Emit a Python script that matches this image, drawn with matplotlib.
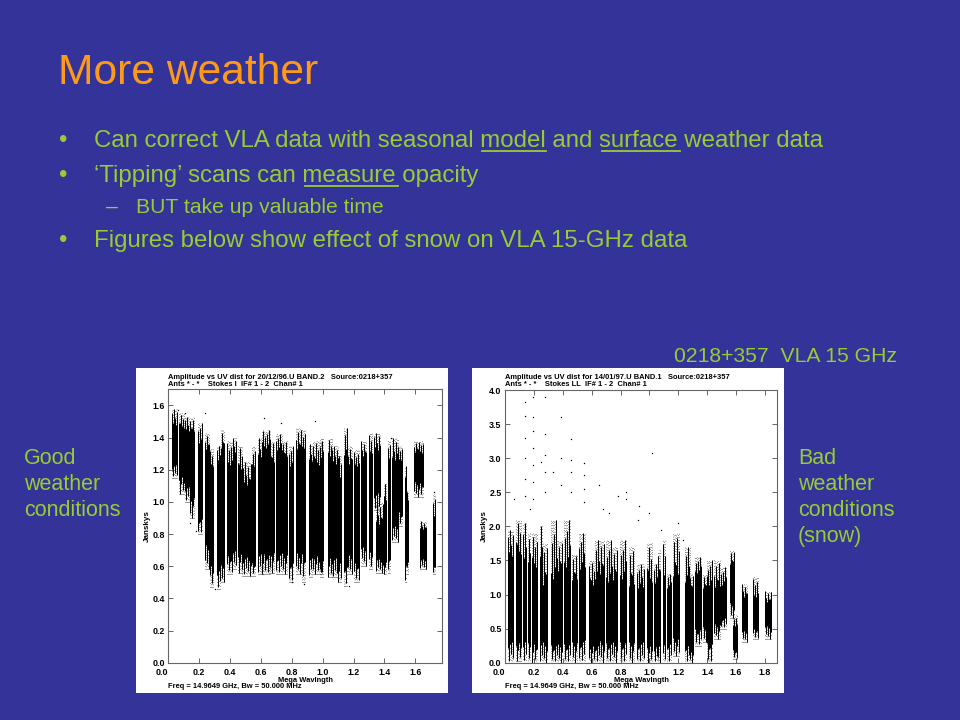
import matplotlib
matplotlib.use('Agg')
import matplotlib.pyplot as plt
import numpy as np
from matplotlib.lines import Line2D
from matplotlib.patches import Rectangle

plt.rcParams['font.family'] = ['Liberation Sans', 'DejaVu Sans']

BG = '#333399'
ORANGE = '#ff9a18'
GREEN = '#99cc33'
W, H = 960, 720

# left plot, good weather: uv distance, solid part of each streak, sparse ends
good_x = [.04, .087, .124, .158, .205, .253, .283, .33, .352, .395, .432, .465, .508, .555, .601,
          .633, .67, .72, .76, .795, .843, .88, .925, .97, .998, 1.047, 1.08, 1.112, 1.15, 1.182,
          1.22, 1.265, 1.312, 1.355, 1.405, 1.432, 1.47, 1.505, 1.54, 1.625, 1.65, 1.55, 1.72, 1.37]
good_lo = [1.2, 1.12, 1.05, .98, .85, .66, .53, .5, .52, .6, .62, .62, .6, .55, .6, .6, .62, .6, .6,
           .56, .6, .6, .58, .6, .58, .58, .58, .56, .52, .6, .55, .65, .62, 1.02, .58, .6, .8, .9,
           .55, 1.1, .62, .58, .58, .62]
good_hi = [1.5, 1.5, 1.48, 1.48, 1.42, 1.4, 1.3, 1.32, 1.42, 1.3, 1.38, 1.25, 1.15, 1.3, 1.35, 1.42,
           1.3, 1.4, 1.35, 1.3, 1.4, 1.42, 1.32, 1.3, 1.35, 1.35, 1.3, 1.2, 1.38, 1.3, 1.3, 1.35,
           1.38, 1.35, 1.05, 1.35, 1.3, 1.3, 1.2, 1.33, .85, 1.05, .95, .88]
good_w = [.028, .028, .024, .026, .024, .024, .018, .02, .018, .028, .02, .024, .05, .018, .03, .042,
          .03, .036, .024, .024, .03, .018, .02, .05, .02, .024, .036, .02, .018, .024, .03, .028,
          .018, .034, .012, .012, .036, .024, .009, .05, .032, .01, .012, .04]
good_tail_lo = [1.15, 1.05, 1.0, .9, .8, .58, .47, .46, .5, .55, .58, .56, .54, .54, .55, .55, .56,
                .55, .55, .5, .55, .5, .53, .55, .53, .53, .53, .5, .48, .55, .5, .6, .58, .95, .55,
                .56, .75, .85, .5, 1.03, .58, .55, .55, .56]
good_tail_hi = [1.58, 1.55, 1.53, 1.52, 1.49, 1.43, 1.33, 1.35, 1.45, 1.38, 1.4, 1.35, 1.25, 1.35,
                1.4, 1.45, 1.38, 1.42, 1.38, 1.35, 1.46, 1.45, 1.36, 1.38, 1.4, 1.4, 1.35, 1.3, 1.46,
                1.35, 1.32, 1.38, 1.43, 1.43, 1.12, 1.38, 1.4, 1.35, 1.22, 1.38, .88, 1.07, 1.05, 1.0]
good_stray_x = [.06, .11, .24, .3, .62, .73, .8, .88, 1.1, 1.17, .95, 1.44, 1.72, .14, .18]
good_stray_y = [1.57, 1.55, 1.55, .46, 1.52, 1.49, .5, .49, .53, .48, 1.5, 1.4, 1.06, .87, .82]
good_xticks = [0.0, 0.2, 0.4, 0.6, 0.8, 1.0, 1.2, 1.4, 1.6]
good_yticks = [0.0, 0.2, 0.4, 0.6, 0.8, 1.0, 1.2, 1.4, 1.6]

# right plot, snow
bad_x = [.042, .092, .138, .166, .208, .25, .277, .335, .38, .427, .48, .53, .6, .635, .675, .72,
         .762, .82, .877, .923, .958, 1.005, 1.044, 1.072, 1.105, 1.136, 1.182, 1.265, 1.292, 1.335,
         1.383, 1.418, 1.465, 1.51, 1.57, 1.593, 1.658, 1.738, 1.824]
bad_lo = [.15, .15, .2, .15, .15, .15, .2, .15, .15, .15, .2, .2, .15, .15, .2, .2, .2, .2, .2, .2, .2,
          .15, .15, .2, .15, .2, .25, .15, .1, .4, .45, .2, .5, .62, .8, .15, .4, .45, .5]
bad_hi = [1.7, 1.75, 1.55, 1.6, 1.55, 1.6, 1.2, 1.35, 1.45, 1.55, 1.3, 1.5, 1.2, 1.35, 1.4, 1.3, 1.3,
          1.35, 1.2, 1.2, 1.2, 1.3, 1.2, 1.35, 1.35, 1.2, 1.35, 1.3, 1.15, 1.42, 1.15, 1.25, 1.15, 1.2,
          1.5, .58, 1.02, 1.02, .92]
bad_w = [.032, .03, .02, .012, .03, .016, .024, .028, .03, .034, .03, .034, .03, .024, .026, .032, .03,
         .036, .03, .02, .022, .03, .024, .016, .016, .024, .034, .032, .018, .034, .024, .028, .034,
         .028, .024, .024, .03, .03, .034]
bad_tail_lo = [0, .02, 0, 0, 0, 0, 0, 0, 0, 0, 0, 0, 0, 0, 0, 0, 0, 0, 0, 0, 0, 0, 0, 0, 0, 0, .1, 0, 0,
               .25, .3, 0, .35, .5, .65, .05, .3, .35, .35]
bad_tail_hi = [1.95, 2.1, 2.05, 1.9, 1.9, 2.0, 1.75, 2.1, 1.8, 2.1, 1.6, 1.9, 1.5, 1.8, 1.8, 1.8, 1.7, 1.8,
               1.7, 1.45, 1.45, 1.75, 1.45, 1.65, 1.8, 1.3, 1.9, 1.7, 1.3, 1.55, 1.3, 1.5, 1.5, 1.4, 1.65,
               .7, 1.15, 1.25, 1.05]
bad_spike_x = [.14, .14, .14, .14, .14, .14, .195, .195, .195, .195, .195, .195, .195, .28, .28, .28, .28,
               .28, .385, .385, .385, .455, .455, .455, .455, .55, .55, .55, .55, .65, .78, .84, .84, .93,
               1.0, 1.02, .25, .33, .06, .17, .68, .72, .92, 1.08, 1.2, 1.23]
bad_spike_y = [3.83, 3.62, 3.3, 3.0, 2.7, 2.45, 3.9, 3.6, 3.4, 3.15, 2.9, 2.65, 2.4, 3.9, 3.35, 3.05, 2.8,
               2.5, 3.6, 3.0, 2.6, 3.28, 2.98, 2.8, 2.5, 2.93, 2.75, 2.55, 2.35, 2.6, 2.44, 2.5, 2.4, 2.3,
               2.2, 3.07, 2.95, 2.8, 2.4, 2.25, 2.25, 2.2, 2.1, 1.95, 2.05, 1.8]
bad_xticks = [0.0, 0.2, 0.4, 0.6, 0.8, 1.0, 1.2, 1.4, 1.6, 1.8]
bad_yticks = [0.0, 0.5, 1.0, 1.5, 2.0, 2.5, 3.0, 3.5, 4.0]

# how far each pixel column of a streak reaches into its sparse ends, to break the flat tops
FRAY = [.3, .9, .1, .6, 0, .75, .2, 1, .45, .05, .8, .35]


def px_text(x, y, s, **kw):
    return fig.text(x / W, 1 - y / H, s, **kw)


def px_axes(x0, y0, x1, y1):
    return fig.add_axes([x0 / W, 1 - y1 / H, (x1 - x0) / W, (y1 - y0) / H], facecolor='white')


def underline(x0, x1, y):
    fig.add_artist(Line2D([x0 / W, x1 / W], [1 - y / H, 1 - y / H], color=GREEN, lw=1.3))


def vis_plot(ax, xs, lo, hi, w, tail_lo, tail_hi, stray_x, stray_y, xlim, ylim, xticks, yticks, t1, t2):
    ax.set_xlim(xlim)
    ax.set_ylim(ylim)
    px = xlim[1] / ax.get_window_extent().width
    n = 0
    for x, a, b, c, d, wd in zip(xs, lo, hi, tail_lo, tail_hi, w):
        # one thin line per pixel column, sparse dots beyond the solid part
        cols = np.arange(x - wd * 0.62, x + wd * 0.62, px)
        for cx in cols:
            f = FRAY[n % len(FRAY)]
            g = FRAY[(n + 5) % len(FRAY)]
            n += 1
            ax.vlines(cx, c, d, color='black', lw=0.55, linestyles=(0, (0.7, 2.2 + 2 * g)))
            s0 = a + (c - a) * f + (b - a) * 0.1 * (1 - f)
            s1 = b + (d - b) * g - (b - a) * 0.1 * (1 - g)
            ax.vlines(cx, s0, s1, color='black', lw=0.72)
    ax.scatter(stray_x, stray_y, s=1.0, c='black', lw=0)
    ax.set_xticks(xticks)
    ax.set_yticks(yticks)
    ax.set_xticklabels(['%.1f' % v for v in xticks])
    ax.set_yticklabels(['%.1f' % v for v in yticks])
    ax.tick_params(direction='in', length=3.6, width=0.7, color='#666666', top=True, right=True, pad=2.5,
                   labelsize=6.4)
    ax.tick_params(axis='x', pad=3.8)
    for lab in ax.get_xticklabels() + ax.get_yticklabels():
        lab.set_fontweight('bold')
    ax.get_xticklabels()[0].set_ha('right')
    for sp in ax.spines.values():
        sp.set_linewidth(0.8)
        sp.set_color('#666666')
    ax.set_xlabel('Mega Wavlngth', fontsize=5.4, fontweight='bold', labelpad=-0.3)
    ax.set_ylabel('Janskys', fontsize=5.8, fontweight='bold', labelpad=1)
    ax.text(0, 1.039, t1, transform=ax.transAxes, fontsize=5.4, fontweight='bold')
    ax.text(0, 1.013, t2, transform=ax.transAxes, fontsize=5.4, fontweight='bold')
    ax.text(0, -0.075, 'Freq = 14.9649 GHz, Bw = 50.000 MHz', transform=ax.transAxes, fontsize=5.4,
            fontweight='bold', va='top')


fig = plt.figure(figsize=(9.6, 7.2), dpi=100, facecolor=BG)

px_text(58, 84, 'More weather', color=ORANGE, fontsize=30.7)
body = dict(color=GREEN, fontsize=17.25)
px_text(59, 147, '•', **body)
px_text(94, 147, 'Can correct VLA data with seasonal model and surface weather data', **body)
px_text(59, 182, '•', **body)
px_text(94, 182, '‘Tipping’ scans can measure opacity', **body)
px_text(106, 213, '–', color=GREEN, fontsize=15.2)
px_text(136, 213, 'BUT take up valuable time', color=GREEN, fontsize=15.2)
px_text(59, 247, '•', **body)
px_text(94, 247, 'Figures below show effect of snow on VLA 15-GHz data', **body)
underline(482, 546, 151)
underline(602, 680, 151)
underline(305, 398, 186)

side = dict(color=GREEN, fontsize=15.5, linespacing=1.32, va='top')
px_text(674, 347, '0218+357  VLA 15 GHz', color=GREEN, fontsize=15.2, va='top')
px_text(24, 448, 'Good\nweather\nconditions', **side)
px_text(798, 448, 'Bad\nweather\nconditions\n(snow)', **side)

fig.add_artist(Rectangle((136 / W, 1 - 693 / H), 312 / W, 325 / H, color='white', lw=0, zorder=-1))
fig.add_artist(Rectangle((472 / W, 1 - 693 / H), 312 / W, 325 / H, color='white', lw=0, zorder=-1))

ax1 = px_axes(168.3, 389.3, 441.7, 662.7)
vis_plot(ax1, good_x, good_lo, good_hi, good_w, good_tail_lo, good_tail_hi, good_stray_x, good_stray_y,
         (0, 1.771), (0, 1.70), good_xticks, good_yticks,
         'Amplitude vs UV dist for 20/12/96.U BAND.2   Source:0218+357',
         "Ants * - *    Stokes I  IF# 1 - 2  Chan# 1")

ax2 = px_axes(505, 390, 777.3, 662.7)
vis_plot(ax2, bad_x, bad_lo, bad_hi, bad_w, bad_tail_lo, bad_tail_hi, bad_spike_x, bad_spike_y,
         (0, 1.885), (0, 4.0), bad_xticks, bad_yticks,
         'Amplitude vs UV dist for 14/01/97.U BAND.1   Source:0218+357',
         "Ants * - *    Stokes LL  IF# 1 - 2  Chan# 1")

fig.savefig('out.png', dpi=100, facecolor=BG)
